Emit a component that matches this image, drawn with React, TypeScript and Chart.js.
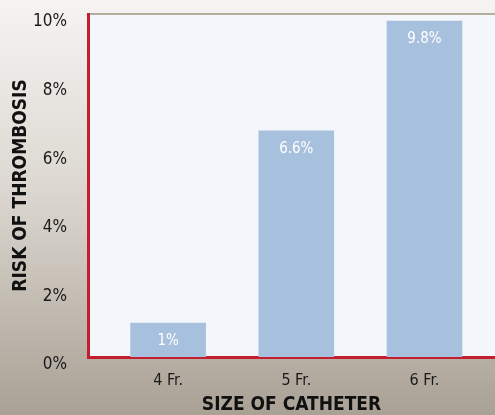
import React, { useEffect, useRef } from "react";
import { Chart, registerables } from "chart.js";

Chart.register(...registerables);

const categories = ["4 Fr.", "5 Fr.", "6 Fr."];
const positions = [1, 2, 3];
const riskValues = [1, 6.6, 9.8];
const valueLabels = ["1%", "6.6%", "9.8%"];
const yTicks = [0, 2, 4, 6, 8, 10];

const FONT = "'DejaVu Sans Condensed', 'Liberation Sans Narrow', sans-serif";

const plotBg = {
  id: "plotBg",
  beforeDraw(chart: any) {
    const { ctx, chartArea } = chart;
    ctx.save();
    ctx.fillStyle = "#f3f6fa";
    ctx.fillRect(chartArea.left, chartArea.top, chartArea.right - chartArea.left, chartArea.bottom - chartArea.top);
    ctx.strokeStyle = "#a09585";
    ctx.lineWidth = 1.5;
    ctx.beginPath();
    ctx.moveTo(chartArea.left, chartArea.top);
    ctx.lineTo(chartArea.right, chartArea.top);
    ctx.stroke();
    ctx.restore();
  },
};

const valueLabelPlugin = {
  id: "valueLabels",
  afterDatasetsDraw(chart: any) {
    const { ctx } = chart;
    const meta = chart.getDatasetMeta(0);
    ctx.save();
    ctx.fillStyle = "#ffffff";
    ctx.font = `15px ${FONT}`;
    ctx.textAlign = "center";
    ctx.textBaseline = "middle";
    meta.data.forEach((bar: any, i: number) => {
      ctx.fillText(valueLabels[i], bar.x, bar.y + 18);
    });
    ctx.restore();
  },
};

export default function App() {
  const ref = useRef<HTMLCanvasElement>(null);
  useEffect(() => {
    document.body.style.margin = "0";
    const chart = new Chart(ref.current!, {
      type: "bar",
      data: {
        datasets: [
          {
            data: positions.map((p, i) => ({ x: p, y: riskValues[i] })),
            backgroundColor: "#a7c0de",
            borderWidth: 0,
            barPercentage: 0.59,
            categoryPercentage: 1,
          },
        ],
      },
      options: {
        animation: false,
        responsive: false,
        maintainAspectRatio: false,
        layout: { padding: { top: 0, right: 0, left: 0, bottom: 0 } },
        plugins: { legend: { display: false }, tooltip: { enabled: false } },
        scales: {
          x: {
            type: "linear",
            offset: false,
            min: 0.375,
            max: 3.55,
            afterBuildTicks(axis: any) {
              axis.ticks = positions.map((p) => ({ value: p }));
            },
            afterFit(axis: any) {
              axis.height = 58;
              axis.paddingLeft = 0;
              axis.paddingRight = 0;
            },
            grid: { display: false, drawTicks: false },
            border: { display: true, color: "#c41e2e", width: 3 },
            ticks: {
              padding: 14,
              color: "#1a1a1a",
              font: { family: FONT, size: 16 },
              callback: (v: any) => categories[positions.indexOf(Number(v))] ?? "",
            },
            title: {
              display: true,
              text: "SIZE OF CATHETER",
              color: "#111111",
              font: { family: FONT, size: 19, weight: "bold", lineHeight: 1 },
              padding: { top: 0, bottom: 0 },
            },
          },
          y: {
            min: 0,
            max: 10,
            afterBuildTicks(axis: any) {
              axis.ticks = yTicks.map((v) => ({ value: v }));
            },
            afterFit(axis: any) {
              axis.width = 88;
              axis.paddingTop = 14;
              axis.paddingBottom = 0;
            },
            grid: { display: false, drawTicks: false },
            border: { display: true, color: "#c41e2e", width: 3 },
            ticks: {
              padding: 21,
              labelOffset: 8,
              color: "#1a1a1a",
              font: { family: FONT, size: 17 },
              callback: (v: any) => `${v}%`,
            },
            title: {
              display: true,
              text: "RISK OF THROMBOSIS",
              color: "#111111",
              font: { family: FONT, size: 19, weight: "bold", lineHeight: 1 },
              padding: { top: 12, bottom: 0 },
            },
          },
        },
      },
      plugins: [plotBg, valueLabelPlugin],
    } as any);
    return () => chart.destroy();
  }, []);

  return (
    <div
      style={{
        position: "absolute",
        left: 0,
        top: 0,
        width: 495,
        height: 415,
        background: "linear-gradient(to bottom, #f5f4f2 0%, #dcd8d1 45%, #aaa195 100%)",
      }}
    >
      <canvas ref={ref} width={495} height={415} style={{ display: "block" }} />
    </div>
  );
}
